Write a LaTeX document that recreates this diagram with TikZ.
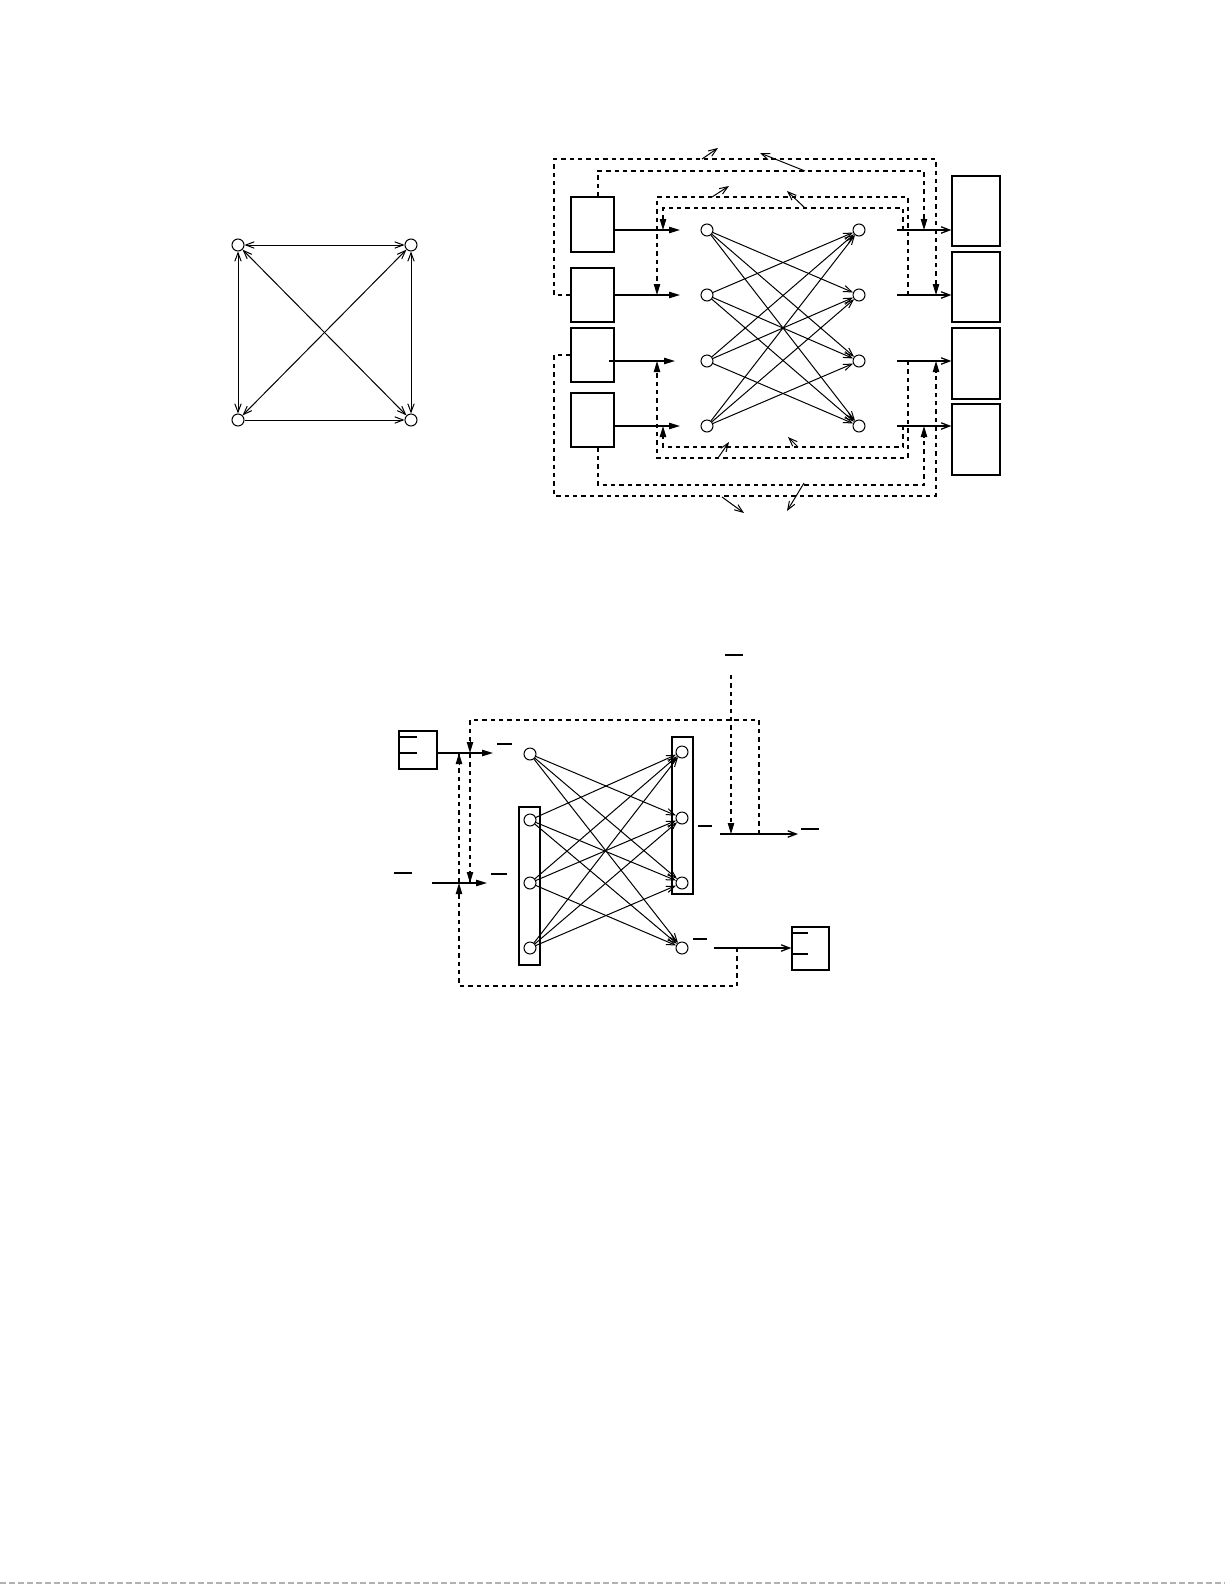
\documentclass[tikz,border=0pt]{standalone}
\usetikzlibrary{arrows.meta}
\begin{document}
\begin{tikzpicture}[x=0.5pt,y=-0.5pt,line width=0.5pt,
  vtx/.style={circle,draw,inner sep=0pt,minimum size=6pt,line width=0.5pt},
  box/.style={draw,inner sep=0pt,line width=0.65pt},
  oarr/.style={-{Straight Barb[length=4.2pt,width=3.2pt]}},
  boarr/.style={{Straight Barb[length=4.2pt,width=3.2pt]}-{Straight Barb[length=4.2pt,width=3.2pt]}},
  farr/.style={-{Triangle[length=5.5pt,width=3.2pt]}},
  dsh/.style={dash pattern=on 2.2pt off 2pt,line width=0.55pt},
  io/.style={line width=0.65pt},
  thickbar/.style={line width=1.2pt},
  thinbar/.style={line width=0.6pt}]
\useasboundingbox (0,0) rectangle (1225,1585);

% ---------- top-left square ----------
\node[vtx] (tl) at (238,245) {};
\node[vtx] (tr) at (411,245) {};
\node[vtx] (bl) at (238,420) {};
\node[vtx] (br) at (411,420) {};
\draw[boarr] (tl) -- (tr);
\draw[boarr] (tl) -- (bl);
\draw[boarr] (tr) -- (br);
\draw[boarr] (tl) -- (br);
\draw[boarr] (tr) -- (bl);
\draw[oarr] (bl) -- (br);

% ---------- top-right network ----------
\node[box,minimum width=21.5pt,minimum height=27.5pt] (b1) at (592.5,224.5) {};
\node[box,minimum width=21.5pt,minimum height=27pt] (b2) at (592.5,295) {};
\node[box,minimum width=21.5pt,minimum height=27pt] (b3) at (592.5,355) {};
\node[box,minimum width=21.5pt,minimum height=27pt] (b4) at (592.5,420) {};

\node[box,minimum width=24pt,minimum height=35pt] (r1) at (976,211) {};
\node[box,minimum width=24pt,minimum height=35pt] (r2) at (976,287) {};
\node[box,minimum width=24pt,minimum height=35.5pt] (r3) at (976,363.5) {};
\node[box,minimum width=24pt,minimum height=35.5pt] (r4) at (976,439.5) {};

\foreach \i/\y in {1/230,2/295,3/361,4/426}{
  \node[vtx] (p\i) at (707,\y) {};
  \node[vtx] (q\i) at (859,\y) {};
  \coordinate (in\i) at (680,\y);
  \coordinate (os\i) at (897,\y);
}
\foreach \i in {1,...,4}{
  \foreach \j in {1,...,4}{
    \ifnum\i=\j\else \draw[oarr] (p\i) -- (q\j); \fi
  }
}
% input arrows
\draw[io,farr] (b1.east |- in1) -- (in1);
\draw[io,farr] (b2.east |- in2) -- (in2);
\coordinate (b3s) at (609,361);
\draw[io,farr] (b3s) -- (675,361);
\draw[io,farr] (b4.east |- in4) -- (in4);
% output arrows
\draw[io,oarr] (os1) -- (os1 -| r1.west);
\draw[io,oarr] (os2) -- (os2 -| r2.west);
\draw[io,oarr] (os3) -- (os3 -| r3.west);
\draw[io,oarr] (os4) -- (os4 -| r4.west);

% dashed feedback loops (top)
\draw[dsh,farr] (b2.west) -- (554,295) -- (554,159) -- (936,159) -- (936,295);
\draw[dsh,farr] (b1.north -| 598,0) -- (598,171) -- (924,171) -- (924,230);
\draw[dsh,farr] (908,295) -- (908,197) -- (657,197) -- (657,295);
\draw[dsh,farr] (903,230) -- (903,208) -- (663,208) -- (663,230);
% dashed feedback loops (bottom)
\draw[dsh,farr] (b3.west) -- (554,355) -- (554,496) -- (936,496) -- (936,361);
\draw[dsh,farr] (b4.south -| 598,0) -- (598,485) -- (924,485) -- (924,426);
\draw[dsh,farr] (908,361) -- (908,458) -- (657,458) -- (657,361);
\draw[dsh,farr] (903,426) -- (903,447) -- (663,447) -- (663,426);

% short diagonal arrows
\draw[oarr] (702,159) -- (718,148);
\draw[oarr] (805,171) -- (760,153);
\draw[oarr] (712,197) -- (729,186);
\draw[oarr] (805,208) -- (787,191);
\draw[oarr] (718,458) -- (729,442);
\draw[oarr] (798,447) -- (788,437);
\draw[oarr] (722,497) -- (744,513);
\draw[oarr] (804,483) -- (787,511);

% ---------- bottom network ----------
\node[box,minimum width=10.5pt,minimum height=79pt] (lr) at (529.5,886) {};
\node[box,minimum width=10.5pt,minimum height=78.5pt] (rr) at (682.5,815.5) {};
\node[vtx,fill=white] (l0) at (530,754) {};
\node[vtx,fill=white] (l1) at (530,820) {};
\node[vtx,fill=white] (l2) at (530,883) {};
\node[vtx,fill=white] (l3) at (530,948) {};
\node[vtx,fill=white] (s0) at (682,752) {};
\node[vtx,fill=white] (s1) at (682,818) {};
\node[vtx,fill=white] (s2) at (682,883) {};
\node[vtx,fill=white] (s3) at (682,948) {};
\foreach \i in {0,...,3}{
  \foreach \j in {0,...,3}{
    \ifnum\i=\j\else \draw[oarr] (l\i) -- (s\j); \fi
  }
}

% input box
\node[box,minimum width=19pt,minimum height=19pt] (ib) at (418,750) {};
\draw[thickbar] (399,737) -- (417,737);
\draw[thinbar] (399,753) -- (417,753);
\node[box,minimum width=18.5pt,minimum height=21.5pt] (ob) at (810.5,948.5) {};
\draw[thickbar] (792,933) -- (808,933);
\draw[thinbar] (792,954) -- (808,954);

% input arrows
\coordinate (ia) at (493,753);
\coordinate (ib2s) at (432,883);
\coordinate (ib2) at (487,883);
\draw[io,farr] (ib.east |- ia) -- (ia);
\draw[io,farr] (ib2s) -- (ib2);
% labels (bars)
\draw[thinbar] (497,744) -- (512,744);
\draw[thickbar] (394,873) -- (412,873);
\draw[thickbar] (491,874) -- (507,874);

% output of s1
\coordinate (o1s) at (720,834);
\coordinate (o1e) at (798,834);
\draw[io,oarr] (o1s) -- (o1e);
\draw[thickbar] (698,826) -- (712,826);
\draw[thinbar] (801,829) -- (819,829);
\draw[dsh,farr] (731,675) -- (731,834);
\draw[thinbar] (725,655) -- (743,655);

% output of s3
\coordinate (o3s) at (714,948);
\draw[io,oarr] (o3s) -- (o3s -| ob.west);
\draw[thickbar] (693,939) -- (707,939);

% feedback loops
\draw[dsh] (759,834) -- (759,720) -- (470,720) -- (470,883);
\draw[farr] (470,741) -- (470,753);
\draw[farr] (470,871) -- (470,883);
\draw[dsh] (737,948) -- (737,986) -- (459,986) -- (459,753);
\draw[farr] (459,895) -- (459,883);
\draw[farr] (459,765) -- (459,753);

% faint page edge line
\draw[gray!60,dash pattern=on 3pt off 1.5pt,line width=0.6pt] (0,1583) -- (1225,1583);
\end{tikzpicture}
\end{document}
